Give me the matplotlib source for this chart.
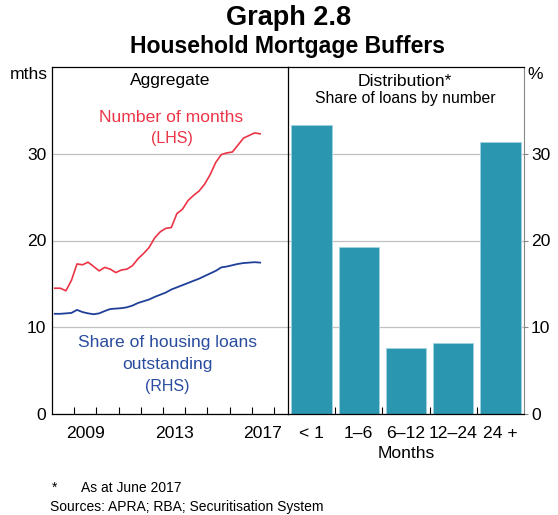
import numpy as np
import matplotlib
matplotlib.use("Agg")
import matplotlib.pyplot as plt

plt.rcParams['font.family'] = ['Liberation Sans', 'DejaVu Sans']

# quarterly data, 2008 Q1 .. 2017 Q2
quarters = 2008.125 + np.arange(38) / 4
months_buffer = [14.5, 14.5, 14.2, 15.4, 17.3, 17.2, 17.5, 17.0, 16.5, 16.9,
                 16.7, 16.3, 16.6, 16.7, 17.1, 17.9, 18.5, 19.2, 20.3, 21.0,
                 21.4, 21.5, 23.1, 23.6, 24.6, 25.2, 25.7, 26.5, 27.6, 29.0,
                 29.9, 30.1, 30.2, 31.0, 31.8, 32.1, 32.4, 32.3]
share_loans = [11.55, 11.55, 11.6, 11.65, 12.0, 11.75, 11.6, 11.5, 11.6, 11.87,
               12.1, 12.15, 12.2, 12.3, 12.5, 12.8, 13.0, 13.2, 13.5, 13.75,
               14.0, 14.35, 14.6, 14.85, 15.1, 15.35, 15.6, 15.9, 16.2, 16.5,
               16.9, 17.0, 17.15, 17.3, 17.4, 17.45, 17.5, 17.45]

buffer_cats = ['< 1', '1–6', '6–12', '12–24', '24 +']
buffer_share = [33.3, 19.2, 7.6, 8.2, 31.4]

year_labels = [2009, 2013, 2017]

W, H = 558, 515
fig = plt.figure(figsize=(W / 100, H / 100), dpi=100)

def fx(px):
    return px / W

def fy(py):
    return 1 - py / H

x0, xm, x1, ytop, ybot = 52, 288, 524, 67, 414
ax1 = fig.add_axes([fx(x0), fy(ybot), fx(xm - x0), (ybot - ytop) / H])
ax2 = fig.add_axes([fx(xm), fy(ybot), fx(x1 - xm), (ybot - ytop) / H])

red = '#ec3446'
blue = '#1f3f99'
bar_col = '#2a96b0'
grid_col = '#c0c0c0'
fs = 12.6

# left panel
ax1.plot(quarters, months_buffer, color=red, lw=1.2)
ax1.plot(quarters, share_loans, color=blue, lw=1.3)
ax1.set_xlim(2008, 2018.63)
ax1.set_ylim(0, 40)
ax1.set_yticks([0, 10, 20, 30])
ax1.set_xticks(np.arange(2009, 2019))
ax1.set_xticklabels([])
ax1.set_xticks([y + 0.5 for y in year_labels], minor=True)
ax1.set_xticklabels([str(y) for y in year_labels], minor=True)
ax1.tick_params(axis='x', which='major', direction='in', length=5, width=0.8)
ax1.tick_params(axis='x', which='minor', length=0, pad=9, labelsize=fs)
ax1.tick_params(axis='y', length=0, pad=4, labelsize=fs)
ax1.grid(axis='y', color=grid_col, lw=0.9)
ax1.set_axisbelow(True)
ax1.spines['right'].set_visible(False)

# right panel
x = np.arange(len(buffer_cats))
ax2.bar(x, buffer_share, width=0.86, color=bar_col, edgecolor='#9fd3e0', lw=0.6)
ax2.set_xlim(-0.5, len(buffer_cats) - 0.5)
ax2.set_ylim(0, 40)
ax2.set_yticks([0, 10, 20, 30])
ax2.yaxis.tick_right()
ax2.set_xticks(x[:-1] + 0.5)
ax2.set_xticklabels([])
ax2.set_xticks(x, minor=True)
ax2.set_xticklabels(buffer_cats, minor=True)
ax2.tick_params(axis='x', which='major', direction='in', length=5, width=0.8)
ax2.tick_params(axis='x', which='minor', length=0, pad=9, labelsize=fs)
ax2.tick_params(axis='y', direction='out', length=3, pad=2, labelsize=fs,
                color='#888888')
ax2.grid(axis='y', color=grid_col, lw=0.9)
ax2.set_axisbelow(True)
ax2.spines['right'].set_color('#888888')
ax2.set_xlabel('Months', fontsize=fs, labelpad=3)

for ax in (ax1, ax2):
    for s in ('top', 'bottom', 'left'):
        ax.spines[s].set_linewidth(0.9)
        ax.spines[s].set_color('black')

# titles and labels
fig.text(fx(289), fy(18), 'Graph 2.8', ha='center', va='center',
         fontsize=19.5, fontweight='bold')
fig.text(fx(288), fy(47), 'Household Mortgage Buffers', ha='center', va='center',
         fontsize=16.6, fontweight='bold')
fig.text(fx(48), fy(75), 'mths', ha='right', va='center', fontsize=fs)
fig.text(fx(527), fy(75), '%', ha='left', va='center', fontsize=fs)
fig.text(fx(170), fy(81), 'Aggregate', ha='center', va='center', fontsize=fs)
fig.text(fx(405), fy(81), 'Distribution*', ha='center', va='center', fontsize=fs)
fig.text(fx(405), fy(98), 'Share of loans by number', ha='center', va='center',
         fontsize=11.3)

fig.text(fx(171), fy(118), 'Number of months', ha='center', va='center',
         fontsize=fs, color=red)
fig.text(fx(172), fy(139), '(LHS)', ha='center', va='center', fontsize=11.5,
         color=red)
fig.text(fx(167), fy(342), 'Share of housing loans', ha='center', va='center',
         fontsize=fs, color='#2a4c9e')
fig.text(fx(167), fy(365), 'outstanding', ha='center', va='center',
         fontsize=fs, color='#2a4c9e')
fig.text(fx(167), fy(386), '(RHS)', ha='center', va='center', fontsize=11.5,
         color='#2a4c9e')

fig.text(fx(52), fy(488), '*', ha='left', va='center', fontsize=10)
fig.text(fx(81), fy(488), 'As at June 2017', ha='left', va='center', fontsize=10)
fig.text(fx(50), fy(507), 'Sources: APRA; RBA; Securitisation System',
         ha='left', va='center', fontsize=10)

fig.savefig('out.png', dpi=100)
